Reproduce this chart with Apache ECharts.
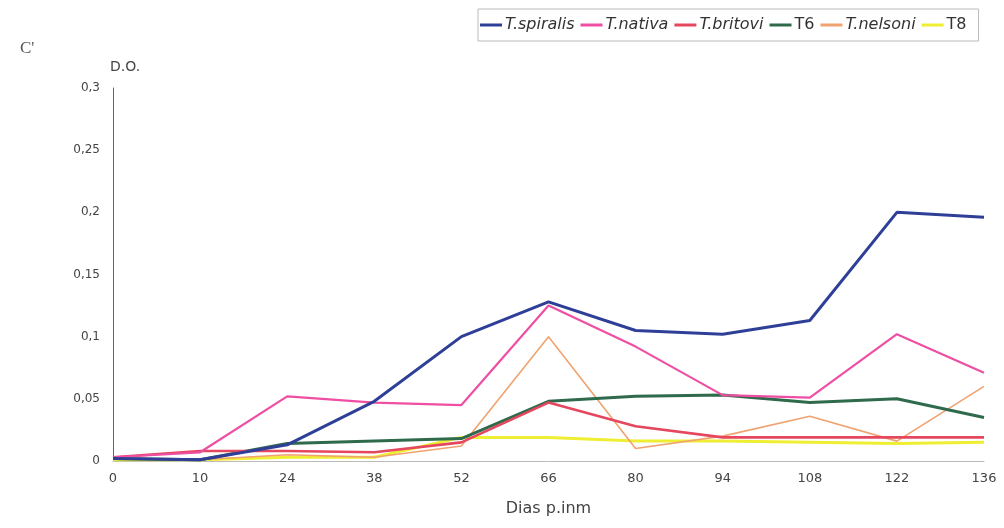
<!DOCTYPE html>
<html><head><meta charset="utf-8">
<script src="https://cdn.jsdelivr.net/npm/echarts@6/dist/echarts.min.js"></script>
<style>html,body{margin:0;padding:0;background:#fff}#c{width:1004px;height:528px}</style>
</head><body><div id="c"></div>
<script>
const days = ['0','10','24','38','52','66','80','94','108','122','136'];
const yTicks = [0, 0.05, 0.1, 0.15, 0.2, 0.25, 0.3];
const spiralis = [0.002, 0.001, 0.013, 0.048, 0.100, 0.128, 0.105, 0.102, 0.113, 0.200, 0.196];
const nativa   = [0.003, 0.007, 0.052, 0.047, 0.045, 0.125, 0.092, 0.053, 0.051, 0.102, 0.071];
const britovi  = [0.003, 0.008, 0.008, 0.007, 0.015, 0.047, 0.028, 0.019, 0.019, 0.019, 0.019];
const t6       = [0.002, 0.001, 0.014, 0.016, 0.018, 0.048, 0.052, 0.053, 0.047, 0.050, 0.035];
const nelsoni  = [0.002, 0.001, 0.005, 0.003, 0.012, 0.100, 0.010, 0.020, 0.036, 0.016, 0.060];
const t8       = [0.001, 0.001, 0.003, 0.003, 0.019, 0.019, 0.016, 0.016, 0.015, 0.014, 0.015];

const names = ['T.spiralis','T.nativa','T.britovi','T6','T.nelsoni','T8'];
const datas = [spiralis, nativa, britovi, t6, nelsoni, t8];
const colors = ['#2f3f98','#ee4fa3','#e4475e','#2f6a4c','#f0a270','#eeee33'];
const widths = [3, 2.2, 2.6, 3, 1.6, 3];
const FONT = 'DejaVu Sans';

const chart = echarts.init(document.getElementById('c'));
chart.setOption({
  backgroundColor: '#fff',
  animation: false,
  grid: {left: 113, right: 20, top: 88, bottom: 67},
  graphic: [
    {type: 'text', left: 20, top: 40, style: {text: "C'", fontFamily: 'Liberation Serif', fontSize: 17, fill: '#555'}},
    {type: 'text', left: 110, top: 60, style: {text: 'D.O.', fontFamily: FONT, fontSize: 14, fill: '#444'}}
  ],
  legend: {
    data: names, left: 478, top: 9, width: 520,
    itemWidth: 22, itemHeight: 3, itemGap: 6, icon: 'rect',
    borderColor: '#bbb', borderWidth: 1, padding: [8, 12, 8, 2],
    textStyle: {fontFamily: FONT, fontSize: 16, color: '#333', padding: [0,0,0,-2],
      rich: {i: {fontStyle: 'italic', fontFamily: FONT, fontSize: 16, color: '#333'}}},
    formatter: n => n.startsWith('T.') ? '{i|' + n + '}' : n
  },
  xAxis: {
    type: 'category', data: days, boundaryGap: false,
    name: 'Dias p.inm', nameLocation: 'middle', nameGap: 40,
    nameTextStyle: {fontFamily: FONT, fontSize: 16, color: '#444'},
    axisLine: {lineStyle: {color: '#bbb', width: 1}},
    axisTick: {show: false},
    axisLabel: {fontFamily: FONT, fontSize: 13, color: '#444', margin: 11},
    splitLine: {show: false}
  },
  yAxis: {
    type: 'value', min: 0, max: 0.3, interval: 0.05,
    axisLine: {show: true, lineStyle: {color: '#666', width: 1}},
    axisTick: {show: false},
    axisLabel: {fontFamily: FONT, fontSize: 12, color: '#444', margin: 13,
      formatter: v => yTicks.some(t => Math.abs(t - v) < 1e-9) ? String(+v.toFixed(2)).replace('.', ',') : ''},
    splitLine: {show: false}
  },
  series: names.map((n, i) => ({
    name: n, type: 'line', data: datas[i], symbol: 'none',
    lineStyle: {color: colors[i], width: widths[i]}, itemStyle: {color: colors[i]},
    z: 10 - i
  }))
});
</script></body></html>
